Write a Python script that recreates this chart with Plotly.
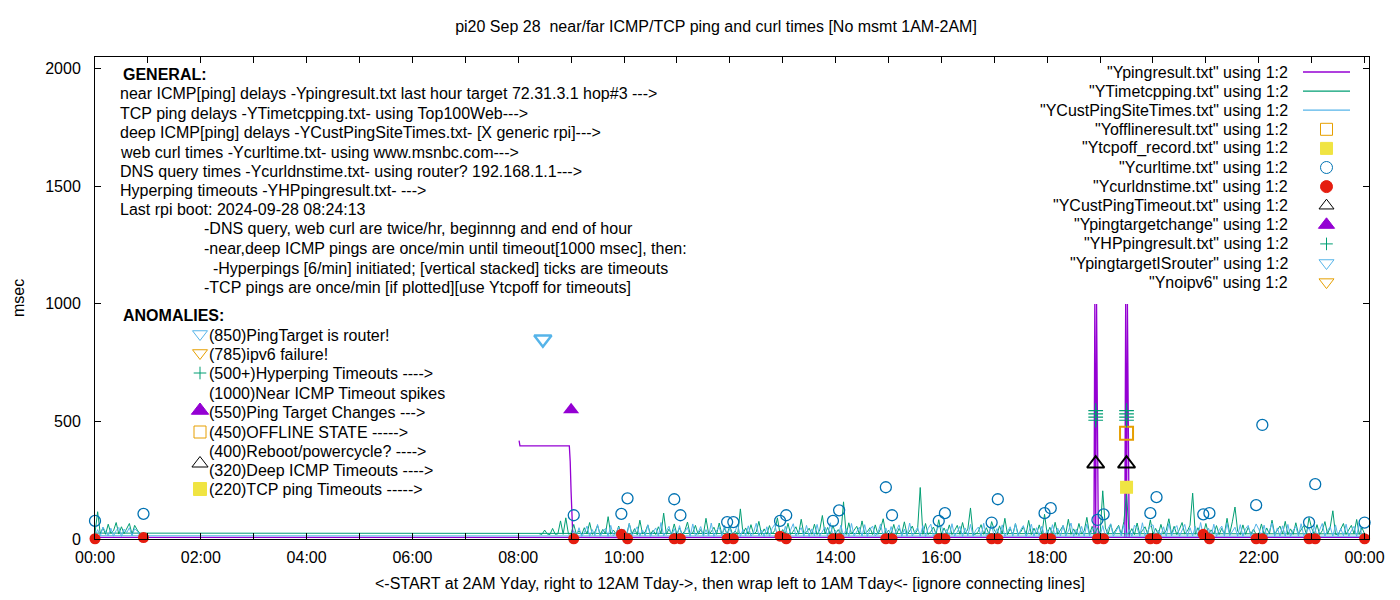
import pandas as pd
import plotly.graph_objects as go

BASE = pd.Timestamp("2024-09-28")
STEP_MIN = 3  # spacing of the values typed in the hourly rows below

# ------------------------------
# near ICMP ping (Ypingresult.txt) -- file order: 08:01..24:00, then wraps to 00:00..
ping_times = ["08:01", "08:02", "08:58", "08:59", "09:00", "09:01", "09:02",
              "10:00", "11:00", "12:00", "13:00", "14:00", "15:00", "16:00", "17:00", "18:00",
              "18:53", "18:54", "18:55", "18:56", "18:57", "18:58",
              "19:28", "19:29", "19:30", "19:31", "19:32", "19:33",
              "20:00", "21:00", "22:00", "23:00", "24:00",
              "00:00", "00:51"]
ping_ms = [418, 396, 396, 328, 200, 102, 7,
           6, 7, 8, 6, 7, 7, 6, 8, 7,
           7, 1000, 7, 1000, 496, 7,
           7, 1000, 7, 1000, 496, 7,
           6, 7, 8, 7, 7,
           7, 7]

# TCP ping (YTimetcpping.txt) -- one row per start time, values every STEP_MIN minutes
tcp_rows = {
    "08:24": [22, 20, 38, 21, 19, 45, 20, 22, 77, 20, 90, 21],
    "09:00": [24, 62, 20, 35, 19, 48, 21, 70, 20, 30, 58, 19, 41, 22, 95, 20, 38, 21, 55, 19],
    "10:00": [33, 20, 66, 21, 44, 18, 80, 22, 29, 60, 20, 37, 19, 52, 23, 110, 20, 42, 21, 64],
    "11:00": [20, 48, 19, 35, 72, 21, 26, 58, 20, 40, 19, 88, 22, 31, 50, 20, 68, 19, 45, 21],
    "12:00": [56, 20, 34, 19, 128, 22, 47, 20, 61, 21, 30, 75, 19, 43, 20, 57, 22, 36, 90, 20],
    "13:00": [40, 21, 67, 19, 33, 52, 20, 84, 22, 29, 46, 20, 63, 19, 38, 100, 21, 49, 20, 58],
    "14:00": [22, 40, 20, 158, 19, 69, 21, 35, 54, 20, 77, 22, 31, 48, 19, 60, 20, 43, 86, 21],
    "15:00": [37, 20, 62, 19, 45, 22, 73, 20, 34, 55, 21, 40, 219, 20, 66, 19, 31, 51, 20, 82],
    "16:00": [20, 47, 21, 60, 19, 36, 58, 20, 70, 22, 42, 132, 19, 21, 33, 61, 20, 48, 19, 74],
    "17:00": [39, 20, 56, 21, 88, 19, 44, 20, 65, 22, 30, 52, 20, 79, 19, 46, 21, 60, 20, 105],
    "18:00": [21, 50, 19, 71, 20, 38, 57, 22, 84, 20, 43, 19, 66, 21, 35, 92, 20, 54, 19, 48],
    "19:00": [20, 205, 47, 19, 63, 22, 39, 58, 20, 75, 190, 21, 44, 19, 68, 20, 36, 52, 21, 81],
    "20:00": [20, 45, 19, 62, 21, 37, 86, 20, 54, 19, 41, 70, 22, 33, 59, 195, 20, 48, 21, 19],
    "21:00": [66, 20, 39, 21, 57, 19, 45, 20, 88, 22, 73, 136, 34, 19, 60, 20, 50, 21, 42, 19],
    "22:00": [20, 64, 19, 47, 21, 80, 20, 36, 55, 22, 75, 19, 43, 20, 69, 21, 38, 57, 20, 91],
    "23:00": [45, 20, 61, 19, 35, 74, 21, 50, 120, 20, 19, 42, 66, 20, 37, 58, 22, 83, 20, 48],
    "24:00": [22],
    "00:00": [25, 116, 22, 48, 20, 63, 24, 35, 70, 21, 52, 23, 44, 66, 20, 58, 38, 22],
}

# deep ICMP ping (YCustPingSiteTimes.txt)
cust_rows = {
    "09:00": [12, 35, 13, 48, 11, 28, 55, 12, 40, 14, 62, 12, 30, 45, 11, 58, 13, 26, 50, 12],
    "10:00": [42, 11, 66, 13, 33, 52, 12, 38, 14, 60, 11, 29, 47, 12, 70, 13, 35, 54, 11, 44],
    "11:00": [13, 57, 12, 31, 49, 11, 64, 14, 27, 53, 12, 40, 13, 68, 11, 36, 50, 12, 59, 13],
    "12:00": [46, 12, 33, 61, 11, 41, 14, 56, 12, 29, 67, 13, 38, 11, 52, 12, 45, 63, 13, 30],
    "13:00": [12, 54, 11, 39, 65, 13, 28, 48, 12, 58, 11, 43, 14, 62, 12, 34, 51, 11, 69, 12],
    "14:00": [37, 13, 59, 12, 44, 11, 66, 13, 32, 50, 12, 61, 11, 40, 55, 13, 27, 64, 12, 47],
    "15:00": [12, 53, 14, 36, 60, 11, 42, 12, 68, 13, 31, 49, 12, 57, 11, 45, 63, 12, 34, 52],
    "16:00": [58, 11, 41, 13, 65, 12, 30, 54, 11, 47, 14, 62, 12, 38, 51, 11, 67, 13, 29, 56],
    "17:00": [12, 44, 13, 60, 11, 35, 52, 12, 66, 13, 40, 57, 11, 31, 63, 12, 48, 14, 55, 12],
    "18:00": [39, 12, 61, 11, 46, 13, 58, 12, 33, 68, 11, 42, 14, 54, 12, 64, 13, 37, 50, 12],
    "19:00": [13, 57, 11, 44, 65, 12, 36, 53, 13, 61, 12, 40, 11, 59, 47, 12, 69, 13, 32, 55],
    "20:00": [60, 12, 38, 14, 52, 11, 66, 13, 43, 57, 12, 35, 62, 11, 48, 13, 54, 12, 70, 13],
    "21:00": [12, 46, 13, 63, 11, 39, 55, 12, 67, 14, 33, 50, 12, 61, 11, 44, 58, 13, 36, 64],
    "22:00": [41, 13, 59, 12, 34, 68, 11, 47, 13, 56, 12, 62, 11, 38, 53, 12, 65, 14, 30, 49],
    "23:00": [12, 57, 11, 43, 66, 13, 37, 52, 12, 60, 11, 45, 14, 63, 12, 35, 54, 11, 68, 13],
    "24:00": [12],
    "00:00": [14, 40, 12, 51, 30, 13, 46, 12, 36, 49, 11, 42, 27, 48, 13, 44, 33, 12],
}

# curl / DNS probes, twice per hour
probe_times = ["00:00", "00:55", "09:03", "09:57", "10:04", "10:57", "11:04", "11:57", "12:04",
               "12:57", "13:04", "13:57", "14:04", "14:57", "15:04", "15:57", "16:04", "16:57",
               "17:04", "17:57", "18:04", "18:57", "19:04", "19:57", "20:04", "20:57", "21:04",
               "21:57", "22:04", "22:57", "23:04", "24:00"]
curl_ms = [77, 107, 101, 107, 173, 169, 101, 72, 72,
           77, 101, 77, 122, 220, 101, 77, 110, 70,
           169, 110, 131, 81, 105, 110, 178, 105, 110,
           144, 485, 71, 233, 70]
dns_ms = [1, 6, 1, 20, 1, 1, 1, 1, 1,
          12, 1, 1, 1, 1, 1, 1, 1, 1,
          1, 1, 1, 1, 1, 1, 1, 20, 1,
          1, 1, 1, 1, 1]

# anomaly markers
offline_times, offline_ms = ["19:30"], [450]
tcpoff_times, tcpoff_ms = ["19:30"], [220]
custtimeout_times, custtimeout_ms = ["18:55", "19:30"], [320, 320]
targetchange_times, targetchange_ms = ["09:00"], [550]
hp_times = ["18:55", "18:55", "18:55", "18:55", "19:30", "19:30", "19:30", "19:30"]
hp_ms = [505, 518, 532, 546, 505, 518, 532, 546]
isrouter_times, isrouter_ms = ["08:28"], [850]
noipv6_times, noipv6_ms = [], []

# ------------------------------
PURPLE, TEAL, SKY = "#9400d3", "#009e73", "#56b4e9"
ORANGE, YELLOW, BLUE, RED = "#e69f00", "#f0e442", "#0072b2", "#e51e10"
FONT = "Liberation Sans, Arial, sans-serif"

# pixel box of the plot area on the page (used for the hand placed key / text)
PL, PR, PT, PB = 95, 1369, 57, 539
OFF = 8  # page body margin


def ts(hhmm):
    return BASE + pd.to_timedelta(hhmm + ":00")


def expand(rows):
    xs, ys = [], []
    for start, vals in rows.items():
        t0 = ts(start)
        for i, v in enumerate(vals):
            xs.append(t0 + pd.Timedelta(minutes=STEP_MIN * i))
            ys.append(v)
    return xs, ys


def esc(s):
    return s.replace("<", "&lt;").replace(">", "&gt;")


def px(x, y):
    return (x - PL) / (PR - PL), (PB - y) / (PB - PT)


fig = go.Figure()

# lines
fig.add_trace(go.Scatter(x=[ts(t) for t in ping_times], y=ping_ms, mode="lines",
                         line=dict(color=PURPLE, width=1.3)))
tx, ty = expand(tcp_rows)
fig.add_trace(go.Scatter(x=tx, y=ty, mode="lines", line=dict(color=TEAL, width=1)))
cx, cy = expand(cust_rows)
fig.add_trace(go.Scatter(x=cx, y=cy, mode="lines", line=dict(color=SKY, width=1)))


def add_points(times, vals, symbol, size, color, lw=0):
    fig.add_trace(go.Scatter(
        x=[ts(t) for t in times], y=vals, mode="markers", cliponaxis=False,
        marker=dict(symbol=symbol, size=size, color=color,
                    line=dict(color=color, width=lw))))


add_points(offline_times, offline_ms, "square-open", 13, ORANGE, 2)
add_points(tcpoff_times, tcpoff_ms, "square", 13, YELLOW)
add_points(probe_times, curl_ms, "circle-open", 11, BLUE, 1.3)
add_points(probe_times, dns_ms, "circle", 11, RED)
add_points(custtimeout_times, custtimeout_ms, "triangle-up-open", 15, "black", 2)
add_points(targetchange_times, targetchange_ms, "triangle-up", 14, PURPLE)
add_points(hp_times, hp_ms, "cross-thin-open", 10.5, TEAL, 1.2)
add_points(isrouter_times, isrouter_ms, "triangle-down-open", 15, SKY, 2.5)
add_points(noipv6_times, noipv6_ms, "triangle-down-open", 13, ORANGE, 1)

# ------------------------------
# key (gnuplot style: text right aligned, sample on the right)
key_rows = [
    ('"Ypingresult.txt" using 1:2', "line", PURPLE),
    ('"YTimetcpping.txt" using 1:2', "line", TEAL),
    ('"YCustPingSiteTimes.txt" using 1:2', "line", SKY),
    ('"Yofflineresult.txt" using 1:2', "square-open", ORANGE),
    ('"Ytcpoff_record.txt" using 1:2', "square", YELLOW),
    ('"Ycurltime.txt" using 1:2', "circle-open", BLUE),
    ('"Ycurldnstime.txt" using 1:2', "circle", RED),
    ('"YCustPingTimeout.txt" using 1:2', "triangle-up-open", "black"),
    ('"Ypingtargetchange" using 1:2', "triangle-up", PURPLE),
    ('"YHPpingresult.txt" using 1:2', "cross-thin-open", TEAL),
    ('"YpingtargetISrouter" using 1:2', "triangle-down-open", SKY),
    ('"Ynoipv6" using 1:2', "triangle-down-open", ORANGE),
]
key_sizes = {"square-open": 12, "square": 12, "circle-open": 12, "circle": 12,
             "triangle-up-open": 13, "triangle-up": 14, "cross-thin-open": 9,
             "triangle-down-open": 13}

annotations = []
for i, (label, kind, color) in enumerate(key_rows):
    yy = 72 + 19.1 * i
    ax, ay = px(1290, yy)
    annotations.append(dict(text=label, x=ax, y=ay, xanchor="right", yanchor="middle"))
    if kind == "line":
        fig.add_trace(go.Scatter(x=[1303, 1350], y=[yy, yy], xaxis="x2", yaxis="y2",
                                 mode="lines", line=dict(color=color, width=1.3)))
    else:
        fig.add_trace(go.Scatter(x=[1326.5], y=[yy], xaxis="x2", yaxis="y2", mode="markers",
                                 cliponaxis=False,
                                 marker=dict(symbol=kind, size=key_sizes[kind], color=color,
                                             line=dict(color=color, width=1))))

# left hand notes
general_lines = [
    (118, 94, "near ICMP[ping] delays -Ypingresult.txt last hour target 72.31.3.1 hop#3 --->"),
    (118, 113, "TCP ping delays -YTimetcpping.txt- using Top100Web--->"),
    (118, 132, "deep ICMP[ping] delays -YCustPingSiteTimes.txt- [X generic rpi]--->"),
    (118, 152, "web curl times -Ycurltime.txt- using www.msnbc.com--->"),
    (118, 171, "DNS query times -Ycurldnstime.txt- using router? 192.168.1.1--->"),
    (118, 190, "Hyperping timeouts -YHPpingresult.txt- --->"),
    (118, 209, "Last rpi boot: 2024-09-28 08:24:13"),
    (202, 229, "-DNS query, web curl are twice/hr, beginnng and end of hour"),
    (202, 248, "-near,deep ICMP pings are once/min until timeout[1000 msec], then:"),
    (202, 268, "\u00a0\u00a0-Hyperpings [6/min] initiated; [vertical stacked] ticks are timeouts"),
    (202, 287, "-TCP pings are once/min [if plotted][use Ytcpoff for timeouts]"),
]
anomaly_lines = [
    (335, "(850)PingTarget is router!", "triangle-down-open", SKY, 13),
    (354, "(785)ipv6 failure!", "triangle-down-open", ORANGE, 13),
    (373, "(500+)Hyperping Timeouts ---->", "cross-thin-open", TEAL, 9),
    (393, "(1000)Near ICMP Timeout spikes", None, None, 0),
    (412, "(550)Ping Target Changes --->", "triangle-up", PURPLE, 15),
    (432, "(450)OFFLINE STATE ----->", "square-open", ORANGE, 12),
    (451, "(400)Reboot/powercycle? ---->", None, None, 0),
    (470, "(320)Deep ICMP Timeouts ---->", "triangle-up-open", "black", 14),
    (489, "(220)TCP ping Timeouts ----->", "square", YELLOW, 13),
]
symbol_shift = {"triangle-down-open": -1, "triangle-up": -1.5, "triangle-up-open": -6.5}

for x0, y0, head in [(121, 74, "<b>GENERAL:</b>"), (121, 315, "<b>ANOMALIES:</b>")]:
    ax, ay = px(x0, y0)
    annotations.append(dict(text=head, x=ax, y=ay, xanchor="left", yanchor="middle"))
for x0, y0, txt in general_lines:
    ax, ay = px(x0, y0)
    annotations.append(dict(text=esc(txt), x=ax, y=ay, xanchor="left", yanchor="middle"))
for y0, txt, sym, color, size in anomaly_lines:
    ax, ay = px(207, y0)
    annotations.append(dict(text=esc(txt), x=ax, y=ay, xanchor="left", yanchor="middle"))
    if sym:
        sy = y0 + symbol_shift.get(sym, 0)
        fig.add_trace(go.Scatter(x=[200], y=[sy], xaxis="x2", yaxis="y2", mode="markers",
                                 cliponaxis=False,
                                 marker=dict(symbol=sym, size=size, color=color,
                                             line=dict(color=color, width=1))))

# axis titles
ax, ay = px(730, 583)
annotations.append(dict(text=esc("<-START at 2AM Yday, right to 12AM Tday->, then wrap left "
                                 "to 1AM Tday<- [ignore connecting lines]"),
                        x=ax, y=ay, xanchor="center", yanchor="middle"))
ax, ay = px(18, 298)
annotations.append(dict(text="msec", x=ax, y=ay, textangle=-90, xanchor="center",
                        yanchor="middle", borderpad=0))

for a in annotations:
    a.update(xref="paper", yref="paper", showarrow=False, font=dict(family=FONT, size=16, color="black"))

fig.update_layout(
    width=1400, height=600,
    margin=dict(l=PL - OFF, r=1400 - (PR - OFF), t=PT - OFF, b=600 - (PB - OFF)),
    paper_bgcolor="white", plot_bgcolor="white",
    font=dict(family=FONT, size=16, color="black"),
    showlegend=False,
    title=dict(text="pi20 Sep 28\u00a0 near/far ICMP/TCP ping and curl times [No msmt 1AM-2AM]",
               x=(716 - OFF) / 1400, xanchor="center", y=1 - (26 - OFF) / 600, yanchor="middle",
               font=dict(family=FONT, size=16, color="black")),
    xaxis=dict(type="date", range=[BASE, BASE + pd.Timedelta(hours=24, minutes=5)],
               tick0=BASE, dtick=2 * 3600 * 1000, tickformat="%H:%M",
               ticks="inside", ticklen=6, tickcolor="black", tickwidth=1,
               minor=dict(dtick=3600 * 1000, ticks="inside", ticklen=6, tickcolor="black",
                          showgrid=False),
               showline=True, linecolor="black", linewidth=1, mirror="ticks",
               showgrid=False, zeroline=False, ticklabelstandoff=4),
    yaxis=dict(range=[0, 2050], dtick=500, ticks="inside", ticklen=6, tickcolor="black",
               showline=True, linecolor="black", linewidth=1, mirror="ticks",
               showgrid=False, zeroline=False, ticklabelstandoff=10),
    xaxis2=dict(overlaying="x", anchor="y2", range=[PL, PR], visible=False),
    yaxis2=dict(overlaying="y", anchor="x2", range=[PB, PT], visible=False),
    annotations=annotations,
)

fig.write_html("out.html")
